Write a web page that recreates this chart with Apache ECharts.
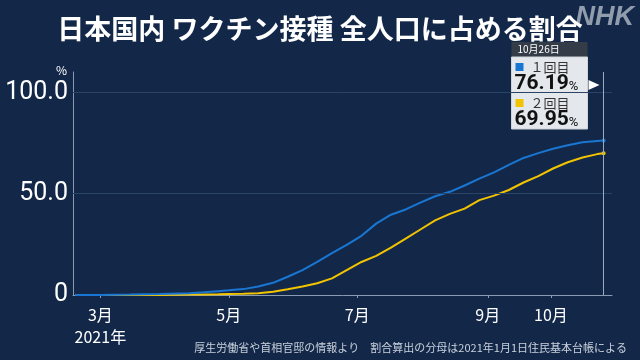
<!DOCTYPE html>
<html><head><meta charset="utf-8">
<script src="https://cdn.jsdelivr.net/npm/echarts@6/dist/echarts.min.js"></script>
<style>html,body{margin:0;padding:0;background:#132849;}#c{width:640px;height:360px;}</style>
</head><body><div id="c"></div>
<script>
const dates = ['2021-02-17','2021-03-01','2021-03-15','2021-03-29','2021-04-12','2021-04-19','2021-04-26','2021-05-01','2021-05-08','2021-05-15','2021-05-22','2021-05-29','2021-06-05','2021-06-12','2021-06-19','2021-06-26','2021-07-03','2021-07-10','2021-07-17','2021-07-24','2021-07-31','2021-08-07','2021-08-14','2021-08-21','2021-08-28','2021-09-04','2021-09-11','2021-09-18','2021-09-25','2021-10-02','2021-10-09','2021-10-16','2021-10-23','2021-10-26'];
const dose1 = [0,0.03,0.2,0.5,0.9,1.3,1.9,2.3,2.9,4.2,6.0,9.0,12.3,16.3,20.7,24.7,29.2,35.2,39.6,42.2,45.6,48.7,50.9,54.0,57.4,60.5,64.2,67.6,70.0,72.1,73.9,75.3,76.0,76.19];
const dose2 = [0,0,0,0.05,0.2,0.3,0.4,0.5,0.6,0.9,1.6,2.8,4.2,5.8,8.2,12.3,16.3,19.3,23.4,27.8,32.3,36.8,40.0,42.6,46.8,49.0,51.8,55.5,58.6,62.4,65.5,67.8,69.5,69.95];
const seriesNames = ['１回目','２回目'];
const monthTicks = ['2021-03-01','2021-05-01','2021-07-01','2021-09-01','2021-10-01'];
const yTicks = [0,50,100];
const title = '日本国内 ワクチン接種 全人口に占める割合';
const source = '厚生労働省や首相官邸の情報より　割合算出の分母は2021年1月1日住民基本台帳による';
const lastDateLabel = '10月26日';

const BLUE = '#1976d2', YELLOW = '#f2c300';
function ts(s){const p=s.split('-');return +new Date(+p[0],+p[1]-1,+p[2]);}
function mk(vals){return dates.map((d,i)=>{const it={value:[ts(d),vals[i]]};if(i===dates.length-1){it.symbol='circle';it.symbolSize=4;}return it;});}
const last = dates.length-1;

const chart = echarts.init(document.getElementById('c'),null,{renderer:'canvas'});
const FONT = '"Noto Sans CJK JP","Noto Sans",sans-serif';
chart.setOption({
  backgroundColor:'#132849',
  animation:false,
  grid:{left:73,right:28,top:72,bottom:65},
  xAxis:{type:'value',min:ts('2021-02-16'),max:ts('2021-10-30'),
    axisLine:{lineStyle:{color:'#8a9ab0',width:1}},
    axisTick:{show:true,length:3,lineStyle:{color:'#8a9ab0'},customValues:monthTicks.map(ts)},
    axisLabel:{customValues:monthTicks.map(ts),color:'#ffffff',fontSize:16,fontFamily:FONT,margin:9,lineHeight:22,
      formatter:function(v){const m=new Date(v).getMonth()+1;return m===3?m+'月\n2021年':m+'月';}},
    splitLine:{show:false}},
  yAxis:{type:'value',min:0,max:110,interval:50,name:'%',nameLocation:'end',nameGap:2,
    nameTextStyle:{color:'#ffffff',fontSize:12,align:'right',verticalAlign:'middle',padding:[0,6,6,0],fontFamily:FONT},
    axisLine:{show:true,lineStyle:{color:'#8a9ab0',width:1}},axisTick:{show:false},
    axisLabel:{customValues:yTicks,color:'#ffffff',fontSize:25,fontFamily:'Roboto,"Noto Sans",sans-serif',margin:5,
      formatter:function(v){return v===0?'0':v.toFixed(1);}},
    splitLine:{show:false}},
  series:[
    {name:seriesNames[0],type:'line',data:mk(dose1),symbol:'none',showSymbol:true,showAllSymbol:true,
      lineStyle:{color:BLUE,width:2},itemStyle:{color:BLUE},z:3,
      markLine:{silent:true,symbol:'none',label:{show:false},
        data:[{yAxis:50,lineStyle:{color:'#2a4467',width:1,type:'solid'}},
              {yAxis:100,lineStyle:{color:'#2a4467',width:1,type:'solid'}},
              {xAxis:ts(dates[last]),lineStyle:{color:'#9aaac0',width:1,type:'solid'}}]}},
    {name:seriesNames[1],type:'line',data:mk(dose2),symbol:'none',showSymbol:true,showAllSymbol:true,
      lineStyle:{color:YELLOW,width:2},itemStyle:{color:YELLOW},z:2}
  ],
  graphic:[
    {type:'text',right:6,top:4,z:-1,style:{text:'NHK',fill:'rgba(200,206,216,0.7)',font:'italic bold 27px "Liberation Sans",Arial,sans-serif'}},
    {type:'text',left:'center',top:15,style:{text:title,fill:'#ffffff',font:'bold 27px '+FONT}},
    {type:'text',right:13,top:342,style:{text:source,fill:'#c9d1dc',font:'11px '+FONT}},
    {type:'group',left:511,top:42,children:[
      {type:'rect',shape:{x:0,y:0,width:76,height:15},style:{fill:'#343c47'}},
      {type:'text',x:6,y:7.5,style:{text:lastDateLabel,fill:'#ffffff',font:'10px '+FONT,verticalAlign:'middle'}},
      {type:'rect',shape:{x:0,y:15,width:76,height:72},style:{fill:'#e4e8ec',stroke:'#cfd5db',lineWidth:1}},
      {type:'rect',shape:{x:4,y:21,width:8,height:8},style:{fill:BLUE}},
      {type:'text',x:19,y:25,style:{text:seriesNames[0],fill:'#333333',font:'13px '+FONT,verticalAlign:'middle'}},
      {type:'text',x:3,y:42,style:{text:'{a|'+dose1[last].toFixed(2)+'}{b|%}',verticalAlign:'middle',
        rich:{a:{fill:'#111111',font:'bold 21px Roboto,"Liberation Sans",sans-serif'},b:{fill:'#111111',font:'13px Roboto,sans-serif',padding:[6,0,0,0]}}}},
      {type:'rect',shape:{x:4,y:57,width:8,height:8},style:{fill:YELLOW}},
      {type:'text',x:19,y:61,style:{text:seriesNames[1],fill:'#333333',font:'13px '+FONT,verticalAlign:'middle'}},
      {type:'text',x:3,y:78,style:{text:'{a|'+dose2[last].toFixed(2)+'}{b|%}',verticalAlign:'middle',
        rich:{a:{fill:'#111111',font:'bold 21px Roboto,"Liberation Sans",sans-serif'},b:{fill:'#111111',font:'13px Roboto,sans-serif',padding:[6,0,0,0]}}}},
      {type:'polygon',shape:{points:[[77,38],[88,43],[77,48]]},style:{fill:'#ffffff'}}
    ]}
  ]
});
</script></body></html>
